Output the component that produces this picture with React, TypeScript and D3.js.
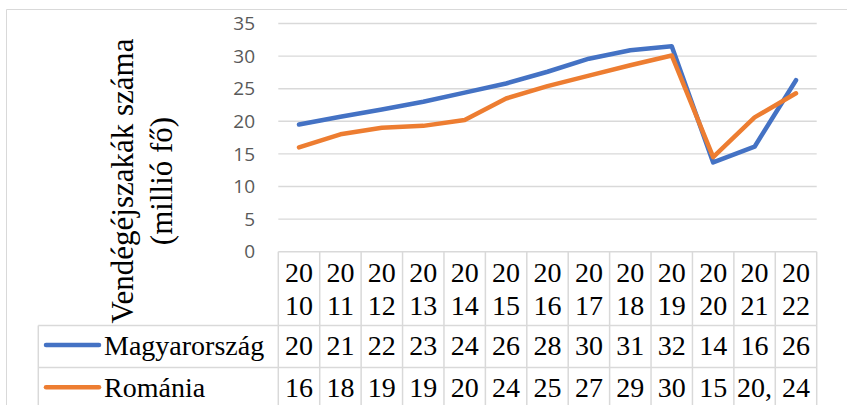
import React from "react";
import * as d3 from "d3";

const years = ["2010","2011","2012","2013","2014","2015","2016","2017","2018","2019","2020","2021","2022"];
const hungary = [19.5, 20.7, 21.8, 23.0, 24.4, 25.8, 27.6, 29.6, 30.9, 31.5, 13.7, 16.1, 26.3];
const romania = [16.0, 18.0, 19.0, 19.3, 20.2, 23.5, 25.4, 27.0, 28.6, 30.1, 14.5, 20.6, 24.3];
const hungaryLabels = ["20","21","22","23","24","26","28","30","31","32","14","16","26"];
const romaniaLabels = ["16","18","19","19","20","24","25","27","29","30","15","20,","24"];
const yTicks = [0, 5, 10, 15, 20, 25, 30, 35];
const seriesNames = ["Magyarország", "Románia"];
const colors = ["#4472C4", "#ED7D31"];

export default function App() {
  const W = 847, H = 405;
  const x = d3.scaleBand<string>().domain(years).range([278.3, 816.7]);
  const y = d3.scaleLinear().domain([0, 35]).range([251.7, 23.5]);
  const line = d3.line<number>()
    .x((_, i) => (x(years[i]) as number) + x.bandwidth() / 2)
    .y((d) => y(d));
  const grid = "#d9d9d9";
  const serif = "'Liberation Serif', 'Times New Roman', serif";
  const left = x.range()[0], right = x.range()[1];
  const row1 = 325.5, row2 = 367.5, legendLeft = 38.3;
  const series = [hungary, romania];
  const labels = [hungaryLabels, romaniaLabels];
  const rowBase = [355, 397];
  const legendY = [345, 387.3];

  return (
    <svg width={W} height={H} style={{ position: "absolute", left: 0, top: 0, background: "#fff" }}>
      {/* outer frame */}
      <line x1={6.5} x2={W} y1={9.5} y2={9.5} stroke={grid} strokeWidth={1} />
      <line x1={6.5} x2={6.5} y1={9.5} y2={H} stroke={grid} strokeWidth={1} />

      {/* gridlines */}
      {yTicks.map((t) => (
        <line key={t} x1={left} x2={right} y1={y(t)} y2={y(t)} stroke={grid} strokeWidth={1.4} />
      ))}
      {/* tick labels */}
      {yTicks.map((t) => (
        <text key={"t" + t} x={255} y={y(t)} dy="0.35em" textAnchor="end"
          fontFamily="'Open Sans', sans-serif" fontSize={19} fill="#595959">{t}</text>
      ))}

      {/* y axis title */}
      <text transform={`translate(133,181) rotate(-90)`} textAnchor="middle"
        fontFamily={serif} fontSize={31} fill="#000">Vendégéjszakák száma</text>
      <text transform={`translate(172,181) rotate(-90)`} textAnchor="middle"
        fontFamily={serif} fontSize={31} fill="#000">(millió fő)</text>

      {/* table lines */}
      {d3.range(years.length + 1).map((i) => {
        const xx = left + i * x.step();
        return <line key={"v" + i} x1={xx} x2={xx} y1={y(0)} y2={H} stroke={grid} strokeWidth={1.5} />;
      })}
      <line x1={legendLeft} x2={right} y1={row1} y2={row1} stroke={grid} strokeWidth={1.5} />
      <line x1={legendLeft} x2={right} y1={row2} y2={row2} stroke={grid} strokeWidth={1.5} />
      <line x1={legendLeft} x2={legendLeft} y1={row1} y2={H} stroke={grid} strokeWidth={1.5} />

      {/* header year labels */}
      {years.map((yr) => {
        const cx = (x(yr) as number) + x.bandwidth() / 2;
        return (
          <g key={"h" + yr}>
            <text x={cx} y={281.7} textAnchor="middle" fontFamily={serif} fontSize={28}>{yr.slice(0, 2)}</text>
            <text x={cx} y={315} textAnchor="middle" fontFamily={serif} fontSize={28}>{yr.slice(2)}</text>
          </g>
        );
      })}

      {/* data rows */}
      {labels.map((labs, s) => (
        <g key={"r" + s}>
          <line x1={46} x2={99} y1={legendY[s]} y2={legendY[s]} stroke={colors[s]} strokeWidth={4.5} strokeLinecap="round" />
          <text x={104} y={rowBase[s]} fontFamily={serif} fontSize={28}>{seriesNames[s]}</text>
          {labs.map((l, i) => (
            <text key={i} x={(x(years[i]) as number) + x.bandwidth() / 2} y={rowBase[s]}
              textAnchor="middle" fontFamily={serif} fontSize={28}>{l}</text>
          ))}
        </g>
      ))}

      {/* lines */}
      {series.map((d, s) => (
        <path key={"l" + s} d={line(d) || ""} fill="none" stroke={colors[s]} strokeWidth={4.5}
          strokeLinejoin="round" strokeLinecap="round" />
      ))}
    </svg>
  );
}
